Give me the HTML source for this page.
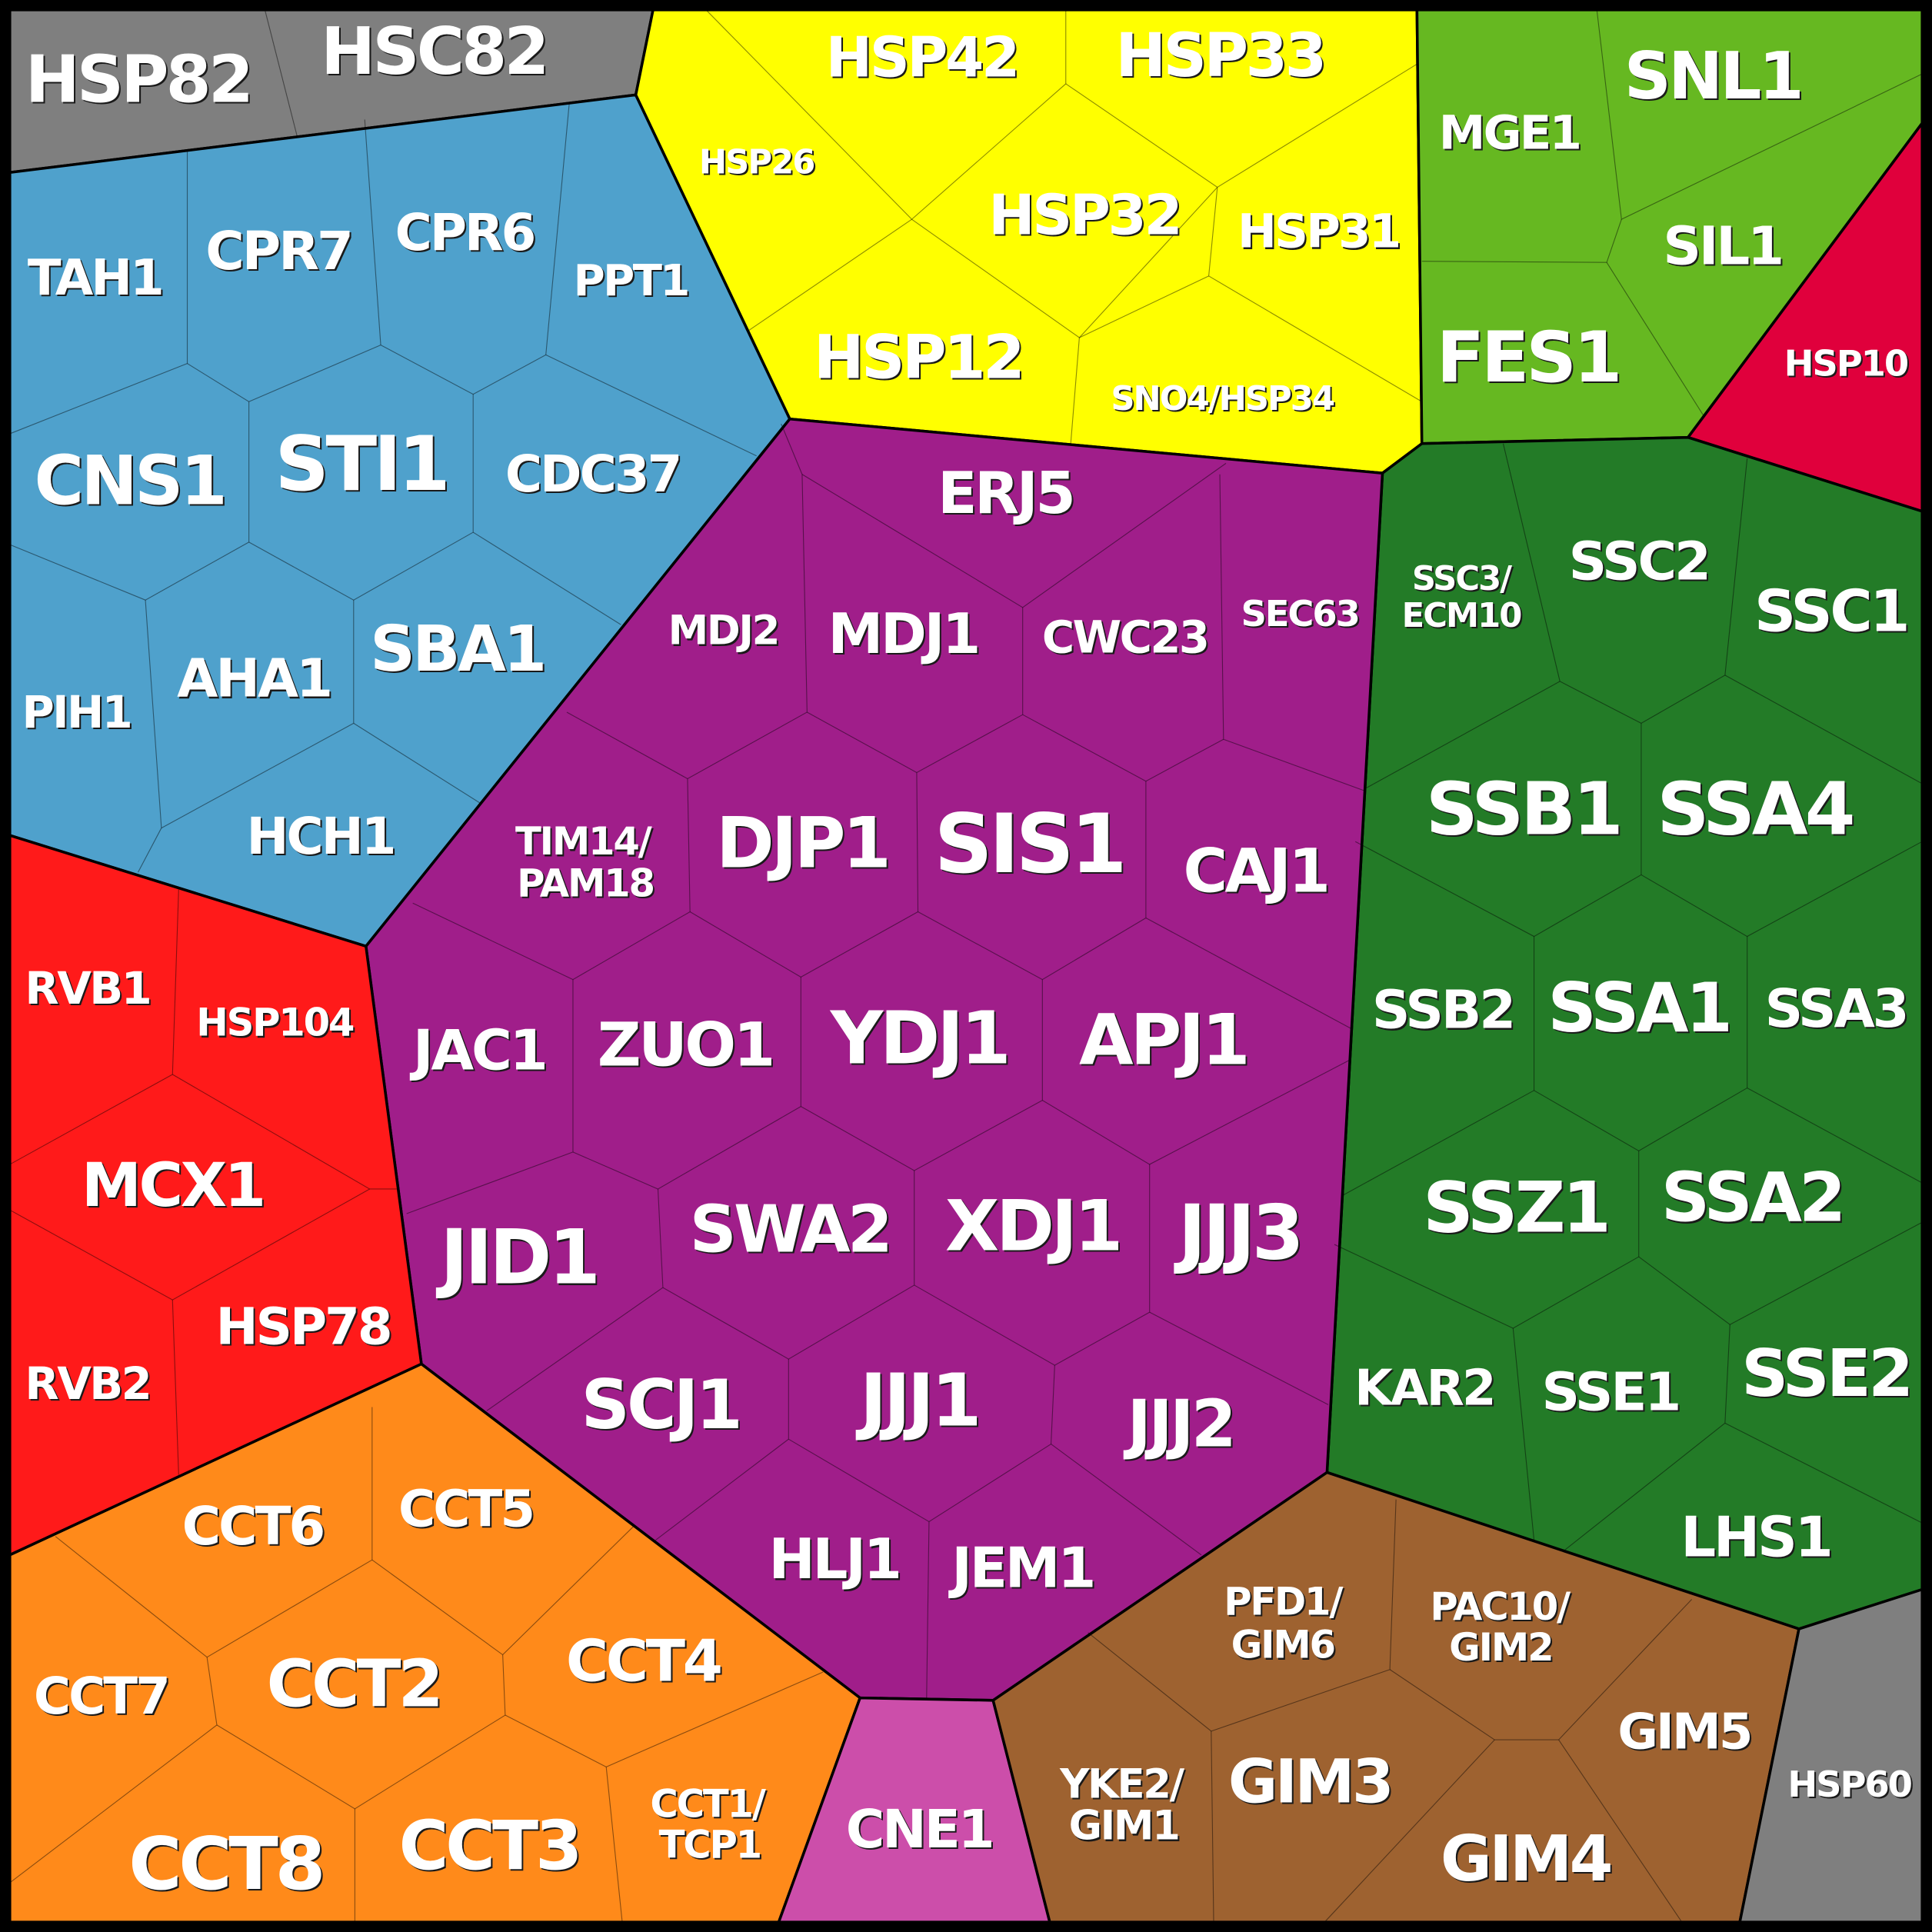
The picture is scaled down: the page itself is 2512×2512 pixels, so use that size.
<!DOCTYPE html>
<html><head><meta charset="utf-8"><style>
html,body{margin:0;padding:0;background:#000}
svg{display:block}
text{font-family:"DejaVu Sans","Liberation Sans",sans-serif;font-weight:bold;text-anchor:middle;dominant-baseline:central;letter-spacing:-0.045em}
.grp{stroke:#000;stroke-width:2.2;stroke-linejoin:round}
.ln{stroke:#000;stroke-opacity:.45;stroke-width:.7;fill:none}
</style></head><body>
<svg width="2512" height="2512" viewBox="0 0 1568 1568" xmlns="http://www.w3.org/2000/svg">
<rect width="1568" height="1568" fill="#000"/>
<g class="grp">
<polygon fill="#7f7f7f" points="8,8 530,8 516,77 8,140"/>
<polygon fill="#4fa1cc" points="8,140 516,77 641,340 297,768 8,678"/>
<polygon fill="#ffff00" points="530,8 1150,8 1154,360 1122,384 641,340 516,77"/>
<polygon fill="#66b821" points="1150,8 1560,8 1560,100 1370,355 1154,360"/>
<polygon fill="#e0003c" points="1560,100 1560,415 1370,355"/>
<polygon fill="#237b27" points="1154,360 1370,355 1560,415 1560,1290 1460,1322 1077,1195 1122,384"/>
<polygon fill="#a01e8a" points="641,340 1122,384 1077,1195 806,1380 698,1378 342,1107 297,768"/>
<polygon fill="#ff1a1a" points="8,678 297,768 342,1107 8,1262"/>
<polygon fill="#ff8a1a" points="8,1262 342,1107 698,1378 632,1560 8,1560"/>
<polygon fill="#cc4eaa" points="698,1378 806,1380 852,1560 632,1560"/>
<polygon fill="#9e6230" points="806,1380 1077,1195 1460,1322 1412,1560 852,1560"/>
<polygon fill="#7f7f7f" points="1460,1322 1560,1290 1560,1560 1412,1560"/>
</g>
<g class="ln">
<polyline points="215,8 241,110"/>
<polyline points="152,123 152,295"/><polyline points="296,97 309,280"/><polyline points="462,84 443,288"/>
<polyline points="8,352 152,295 202,326 309,280 384,320 443,288 614,370"/>
<polyline points="202,326 202,440 118,487 8,442"/>
<polyline points="384,320 384,432 287,487 202,440"/><polyline points="384,432 504,507"/>
<polyline points="118,487 131,672 112,708"/><polyline points="131,672 287,587 287,487"/><polyline points="287,587 390,652"/>
<polyline points="573,8 740,178 865,68 865,8"/><polyline points="865,68 988,152 1150,52"/>
<polyline points="740,178 608,268"/><polyline points="740,178 876,274 988,152"/>
<polyline points="988,152 981,224 1154,326"/><polyline points="876,274 869,360"/><polyline points="981,224 876,274"/>
<polyline points="1296,8 1316,178 1560,60"/><polyline points="1154,212 1304,213 1316,178"/><polyline points="1304,213 1383,338"/>
<polyline points="1220,360 1266,553 1332,587 1400,548 1418,372"/><polyline points="1266,553 1108,640"/><polyline points="1400,548 1560,636"/>
<polyline points="1332,587 1332,710 1245,760 1100,683"/><polyline points="1332,710 1418,760 1560,683"/>
<polyline points="1245,760 1245,885 1330,934 1418,883 1418,760"/><polyline points="1245,885 1090,970"/><polyline points="1418,883 1560,960"/>
<polyline points="1330,934 1330,1020 1228,1078 1083,1010"/><polyline points="1330,1020 1404,1075 1560,992"/>
<polyline points="1228,1078 1245,1250"/><polyline points="1404,1075 1400,1155 1270,1258"/><polyline points="1400,1155 1560,1236"/>
<polyline points="634,344 651,385 655,578 558,632 460,578"/><polyline points="651,385 830,493 995,376"/>
<polyline points="990,385 993,600 1108,642"/><polyline points="830,493 830,580 744,627 655,578"/>
<polyline points="830,580 930,634 993,600"/><polyline points="558,632 560,740 465,795 335,733"/>
<polyline points="744,627 745,740 650,793 560,740"/><polyline points="930,634 930,745 846,795 745,740"/>
<polyline points="930,745 1097,835"/><polyline points="465,795 465,935 330,985"/>
<polyline points="650,793 650,898 534,965 465,935"/><polyline points="846,795 846,893 742,950 650,898"/>
<polyline points="846,893 933,945 1096,860"/><polyline points="534,965 538,1045 395,1145"/>
<polyline points="742,950 742,1043 640,1103 538,1045"/><polyline points="933,945 933,1065 856,1108 742,1043"/>
<polyline points="933,1065 1078,1140"/><polyline points="640,1103 640,1168 532,1250"/>
<polyline points="856,1108 853,1172 754,1235 640,1168"/><polyline points="853,1172 975,1262"/><polyline points="754,1235 752,1380"/>
<polyline points="145,722 140,872 8,945"/><polyline points="140,872 300,965 322,965"/>
<polyline points="300,965 140,1055 8,982"/><polyline points="140,1055 145,1197"/>
<polyline points="302,1142 302,1266 168,1345 45,1247"/><polyline points="302,1266 408,1343 515,1238"/>
<polyline points="168,1345 176,1400 8,1528"/><polyline points="408,1343 410,1392 288,1468 176,1400"/>
<polyline points="410,1392 492,1434 668,1357"/><polyline points="288,1468 288,1560"/><polyline points="492,1434 505,1560"/>
<polyline points="1133,1217 1128,1355 983,1405 883,1325"/><polyline points="1128,1355 1213,1412 1265,1412 1373,1298"/>
<polyline points="983,1405 985,1560"/><polyline points="1213,1412 1075,1560"/><polyline points="1265,1412 1365,1560"/>
</g>
<defs>
<g id="labels">
<text x="112" y="65" font-size="53">HSP82</text>
<text x="352" y="42" font-size="53">HSC82</text>
<text x="748" y="47" font-size="45">HSP42</text>
<text x="990" y="45" font-size="49">HSP33</text>
<text x="614" y="132" font-size="27">HSP26</text>
<text x="880" y="175" font-size="45">HSP32</text>
<text x="1070" y="188" font-size="38">HSP31</text>
<text x="745" y="290" font-size="49">HSP12</text>
<text x="992" y="324" font-size="27">SNO4/HSP34</text>
<text x="1225" y="108" font-size="38">MGE1</text>
<text x="1390" y="62" font-size="53">SNL1</text>
<text x="1398" y="200" font-size="43">SIL1</text>
<text x="1240" y="290" font-size="57">FES1</text>
<text x="1498" y="295" font-size="29">HSP10</text>
<text x="77" y="226" font-size="40">TAH1</text>
<text x="226" y="204" font-size="43">CPR7</text>
<text x="377" y="189" font-size="41">CPR6</text>
<text x="512" y="228" font-size="35">PPT1</text>
<text x="105" y="390" font-size="55">CNS1</text>
<text x="293" y="377" font-size="61">STI1</text>
<text x="481" y="385" font-size="41">CDC37</text>
<text x="62" y="578" font-size="36">PIH1</text>
<text x="206" y="551" font-size="43">AHA1</text>
<text x="371" y="527" font-size="51">SBA1</text>
<text x="260" y="679" font-size="41">HCH1</text>
<text x="816" y="400" font-size="47">ERJ5</text>
<text x="587" y="512" font-size="33">MDJ2</text>
<text x="733" y="515" font-size="45">MDJ1</text>
<text x="913" y="517" font-size="36">CWC23</text>
<text x="1055" y="498" font-size="29">SEC63</text>
<text x="473" y="683" font-size="31">TIM14/</text>
<text x="475" y="717" font-size="31">PAM18</text>
<text x="651" y="684" font-size="57">DJP1</text>
<text x="835" y="685" font-size="66">SIS1</text>
<text x="1019" y="707" font-size="49">CAJ1</text>
<text x="389" y="853" font-size="45">JAC1</text>
<text x="556" y="848" font-size="49">ZUO1</text>
<text x="746" y="843" font-size="59">YDJ1</text>
<text x="944" y="844" font-size="57">APJ1</text>
<text x="421" y="1021" font-size="61">JID1</text>
<text x="641" y="998" font-size="53">SWA2</text>
<text x="838" y="995" font-size="57">XDJ1</text>
<text x="1006" y="1001" font-size="61">JJJ3</text>
<text x="536" y="1140" font-size="55">SCJ1</text>
<text x="746" y="1137" font-size="59">JJJ1</text>
<text x="958" y="1156" font-size="53">JJJ2</text>
<text x="677" y="1266" font-size="45">HLJ1</text>
<text x="830" y="1273" font-size="45">JEM1</text>
<text x="1186" y="470" font-size="27">SSC3/</text>
<text x="1186" y="500" font-size="27">ECM10</text>
<text x="1330" y="456" font-size="43">SSC2</text>
<text x="1486" y="496" font-size="47">SSC1</text>
<text x="1236" y="657" font-size="59">SSB1</text>
<text x="1424" y="657" font-size="59">SSA4</text>
<text x="1171" y="820" font-size="43">SSB2</text>
<text x="1330" y="818" font-size="55">SSA1</text>
<text x="1490" y="819" font-size="43">SSA3</text>
<text x="1230" y="980" font-size="57">SSZ1</text>
<text x="1422" y="972" font-size="55">SSA2</text>
<text x="1156" y="1127" font-size="40">KAR2</text>
<text x="1307" y="1130" font-size="43">SSE1</text>
<text x="1482" y="1115" font-size="53">SSE2</text>
<text x="1425" y="1248" font-size="45">LHS1</text>
<text x="71" y="802" font-size="36">RVB1</text>
<text x="223" y="830" font-size="31">HSP104</text>
<text x="140" y="962" font-size="49">MCX1</text>
<text x="246" y="1077" font-size="41">HSP78</text>
<text x="71" y="1123" font-size="36">RVB2</text>
<text x="205" y="1239" font-size="43">CCT6</text>
<text x="378" y="1225" font-size="41">CCT5</text>
<text x="82" y="1377" font-size="41">CCT7</text>
<text x="287" y="1367" font-size="53">CCT2</text>
<text x="522" y="1348" font-size="47">CCT4</text>
<text x="574" y="1464" font-size="31">CCT1/</text>
<text x="576" y="1497" font-size="31">TCP1</text>
<text x="183" y="1513" font-size="59">CCT8</text>
<text x="397" y="1498" font-size="55">CCT3</text>
<text x="746" y="1485" font-size="43">CNE1</text>
<text x="1041" y="1300" font-size="31">PFD1/</text>
<text x="1041" y="1335" font-size="31">GIM6</text>
<text x="1217" y="1304" font-size="31">PAC10/</text>
<text x="1218" y="1337" font-size="31">GIM2</text>
<text x="1367" y="1406" font-size="40">GIM5</text>
<text x="910" y="1448" font-size="33">YKE2/</text>
<text x="912" y="1482" font-size="33">GIM1</text>
<text x="1063" y="1446" font-size="49">GIM3</text>
<text x="1238" y="1509" font-size="51">GIM4</text>
<text x="1501" y="1448" font-size="29">HSP60</text>
</g>
</defs>
<g fill="#1a1a1a" transform="translate(1.3,1.3)"><use href="#labels"/></g>
<g fill="#ffffff"><use href="#labels"/></g>
</svg>
</body></html>
